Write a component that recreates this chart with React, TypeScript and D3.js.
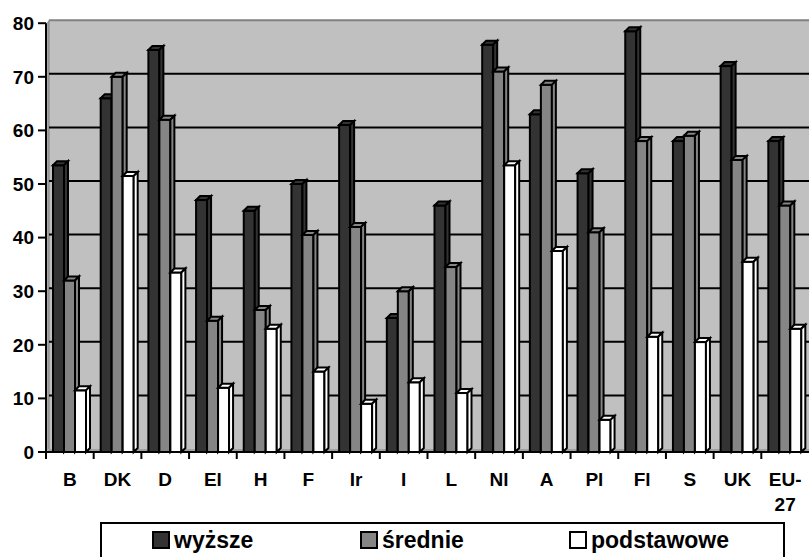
import React from 'react';
import * as d3 from 'd3';

const categories = ['B', 'DK', 'D', 'El', 'H', 'F', 'Ir', 'I', 'L', 'Nl', 'A', 'Pl', 'Fl', 'S', 'UK', 'EU-27'];
const seriesNames = ['wyższe', 'średnie', 'podstawowe'];
const wyzsze = [53.5, 66, 75, 47, 45, 50, 61, 25, 46, 76, 63, 52, 78.5, 58, 72, 58];
const srednie = [32, 70, 62, 24.5, 26.5, 40.5, 42, 30, 34.5, 71, 68.5, 41, 58, 59, 54.5, 46];
const podstawowe = [11.5, 51.5, 33.5, 12, 23, 15, 9, 13, 11, 53.5, 37.5, 6, 21.5, 20.5, 35.5, 23];
const yTicks = [0, 10, 20, 30, 40, 50, 60, 70, 80];

const colors = ['#333333', '#858585', '#ffffff'];
const FONT = '"Liberation Sans", Arial, sans-serif';

const W = 809;
const H = 557;
const left = 46;
const right = 809;
const depth = 3; // back wall offset
const bd = 4; // bar depth

const App = () => {
  const series = [wyzsze, srednie, podstawowe];
  const x = d3.scaleBand().domain(categories).range([left, right]).padding(0);
  const xs = d3.scaleBand().domain(seriesNames).range([7, 40]).padding(0);
  const y = d3.scaleLinear().domain([0, 80]).range([452, 23.2]);
  const yBack = (v) => y(v) - depth;

  const bars = [];
  categories.forEach((c, ci) => {
    seriesNames.forEach((s, si) => {
      const v = series[si][ci];
      const x0 = x(c) + xs(s);
      const w = xs.bandwidth();
      const y0 = y(v);
      const yb = y(0);
      bars.push(
        <g key={c + s} stroke="#000" strokeWidth={2} fill={colors[si]}>
          <rect x={x0} y={y0} width={w} height={yb - y0} />
          <path d={`M${x0},${y0}L${x0 + bd},${y0 - bd}L${x0 + w + bd},${y0 - bd}L${x0 + w},${y0}Z`} />
          <path d={`M${x0 + w},${y0}L${x0 + w + bd},${y0 - bd}L${x0 + w + bd},${yb - bd}L${x0 + w},${yb}Z`} />
        </g>
      );
    });
  });

  return (
    <svg width={W} height={H} style={{ position: 'absolute', left: 0, top: 0 }} fontFamily={FONT}>
      {/* back wall */}
      <rect x={left + depth} y={yBack(80)} width={right - left} height={yBack(0) - yBack(80)} fill="#c0c0c0" />
      <line x1={left + depth} x2={right} y1={yBack(80)} y2={yBack(80)} stroke="#808080" strokeWidth={2} />
      {/* side wall */}
      <path d={`M${left},${y(0)}L${left},${y(80)}L${left + depth},${yBack(80)}L${left + depth},${yBack(0)}Z`} fill="#a8a8a8" />
      <line x1={left + depth} x2={left + depth} y1={yBack(80)} y2={yBack(0)} stroke="#808080" strokeWidth={1} />
      {/* floor */}
      <path d={`M${left},${y(0)}L${left + depth},${yBack(0)}L${right},${yBack(0)}L${right},${y(0)}Z`} fill="#a0a0a0" />
      {/* gridlines */}
      {yTicks.filter(t => t > 0 && t < 80).map(t => (
        <line key={t} x1={left + depth} x2={right} y1={yBack(t)} y2={yBack(t)} stroke="#000" strokeWidth={2} />
      ))}
      {bars}
      {/* axes */}
      <line x1={left} x2={left} y1={y(80)} y2={y(0)} stroke="#000" strokeWidth={2} />
      <line x1={left} x2={right} y1={y(0)} y2={y(0)} stroke="#000" strokeWidth={2} />
      {yTicks.map(t => (
        <g key={t}>
          <line x1={38} x2={left} y1={y(t)} y2={y(t)} stroke="#000" strokeWidth={2} />
          <text x={34} y={y(t)} dy="0.36em" textAnchor="end" fontSize={19} fontWeight="bold">{t}</text>
        </g>
      ))}
      {categories.map(c => (
        <line key={c} x1={x(c)} x2={x(c)} y1={y(0)} y2={y(0) + 7} stroke="#000" strokeWidth={2} />
      ))}
      {categories.map(c => {
        const cx = x(c) + x.bandwidth() / 2;
        if (c === 'EU-27') {
          return (
            <text key={c} x={cx} textAnchor="middle" fontSize={19} fontWeight="bold">
              <tspan x={cx} y={485.5}>EU-</tspan>
              <tspan x={cx} y={510.5}>27</tspan>
            </text>
          );
        }
        return (
          <text key={c} x={cx} y={485.5} textAnchor="middle" fontSize={19} fontWeight="bold">{c}</text>
        );
      })}
      {/* legend */}
      <rect x={101} y={523} width={683} height={60} fill="#fff" stroke="#000" strokeWidth={2} />
      {seriesNames.map((s, i) => {
        const lx = [153, 361, 570][i];
        return (
          <g key={s}>
            <rect x={lx} y={532} width={16} height={16} fill={colors[i]} stroke="#000" strokeWidth={2} />
            <text x={lx + 21} y={548} fontSize={23} fontWeight="bold">{s}</text>
          </g>
        );
      })}
    </svg>
  );
};

export default App;
